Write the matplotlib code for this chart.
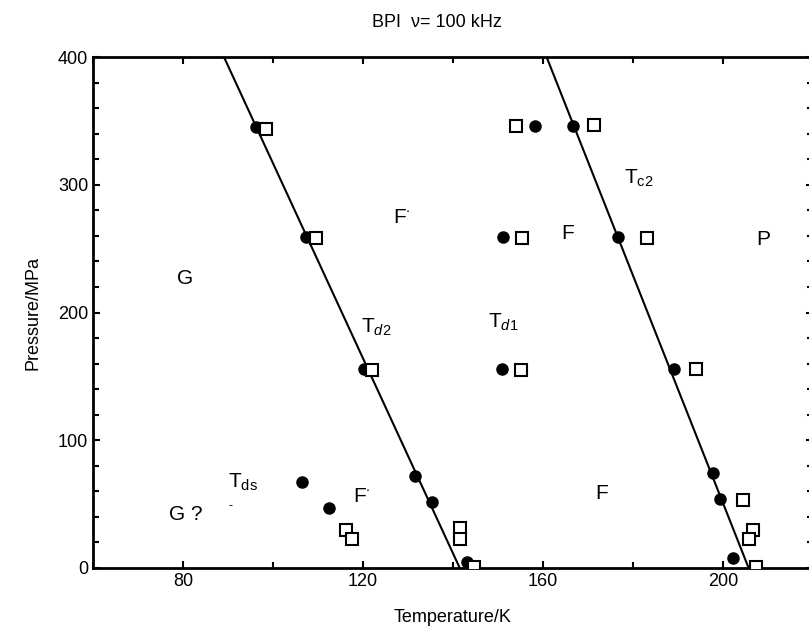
import matplotlib
matplotlib.use('Agg')
import matplotlib.pyplot as plt
from matplotlib.ticker import MultipleLocator

plt.rcParams['font.family'] = ['Liberation Sans Narrow', 'Liberation Sans', 'DejaVu Sans']
plt.rcParams['mathtext.fontset'] = 'custom'
plt.rcParams['mathtext.rm'] = 'Liberation Sans'
plt.rcParams['mathtext.it'] = 'Liberation Sans:italic'

# Filled circles (T in K, P in MPa)
circle_T = [96.3, 107.3, 120.3, 131.6, 135.3, 143.2, 106.4, 112.5,
            151.0, 150.9, 158.2, 166.6, 176.7, 189.1, 197.8, 199.3, 202.2]
circle_P = [345, 259, 156, 72, 52, 4.5, 67, 47,
            259, 156, 346, 346, 259, 156, 74, 54, 8]

# Open squares (T in K, P in MPa)
square_T = [98.5, 109.5, 121.9, 116.3, 117.6, 141.6, 141.6, 144.6,
            154.0, 155.4, 155.0, 171.3, 183.0, 193.9, 204.4, 206.7, 205.8, 207.3]
square_P = [344, 258, 155, 30, 23, 31, 23, 1,
            346, 258, 155, 347, 258, 156, 53, 30, 23, 1]

# Fitted phase boundaries
line_td2_T = [89.1, 141.5]
line_td2_P = [400, 0]
line_tc2_T = [160.8, 205.7]
line_tc2_P = [400, 0]

# Region / transition labels
labels = [
    (80.4, 227, 'G'),
    (128.6, 274, 'F$^{\\cdot}$'),
    (80.7, 42, 'G ?'),
    (119.7, 56, 'F$^{\\cdot}$'),
    (165.4, 262, 'F'),
    (173.0, 58, 'F'),
    (209.0, 257, 'P'),
    (123.0, 188, 'T$_{\\mathit{d2}}$'),
    (151.1, 192, 'T$_{\\mathit{d1}}$'),
    (93.4, 67, 'T$_{\\mathrm{ds}}$'),
    (181.2, 305, 'T$_{\\mathrm{c2}}$'),
]

fig = plt.figure(figsize=(8.09, 6.40), dpi=100)
ax = fig.add_axes([93 / 809, 72 / 640, 720 / 809, 511 / 640])

ax.plot(line_td2_T, line_td2_P, color='black', lw=1.5)
ax.plot(line_tc2_T, line_tc2_P, color='black', lw=1.5)
ax.plot(circle_T, circle_P, 'o', color='black', ms=8, zorder=3)
ax.plot(square_T, square_P, 's', mfc='white', mec='black', mew=1.5, ms=8, zorder=3)

for x, y, s in labels:
    ax.text(x, y, s, fontsize=15, ha='center', va='center')
ax.text(90.6, 48.5, '-', fontsize=9, ha='center', va='center')

ax.set_xlim(60, 220)
ax.set_ylim(0, 400)
ax.set_xticks([80, 120, 160, 200])
ax.xaxis.set_minor_locator(MultipleLocator(20))
ax.yaxis.set_major_locator(MultipleLocator(100))
ax.yaxis.set_minor_locator(MultipleLocator(20))
ax.tick_params(which='both', direction='in', top=True, right=True, labelsize=13, width=1.5)
ax.tick_params(which='major', length=5)
ax.tick_params(which='minor', length=4)
for sp in ax.spines.values():
    sp.set_linewidth(2)

ax.set_xlabel('Temperature/K', fontsize=13, labelpad=14)
ax.set_ylabel('Pressure/MPa', fontsize=13, labelpad=12)
fig.text(0.54, 0.965, 'BPI  \u03bd= 100 kHz', fontsize=13, ha='center', va='center')

fig.savefig('out.png', dpi=100)
